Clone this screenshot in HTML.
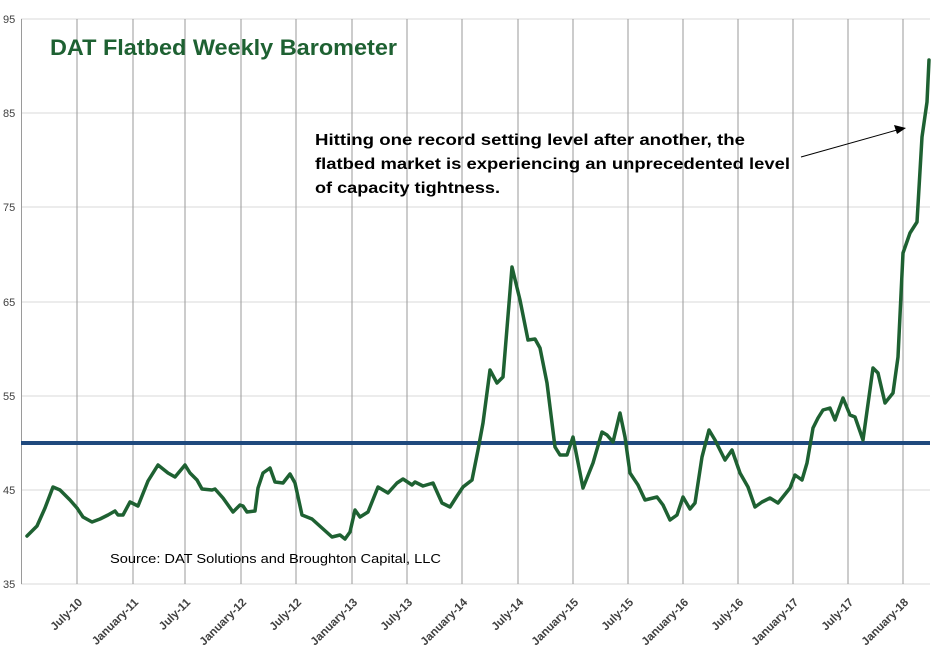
<!DOCTYPE html>
<html><head><meta charset="utf-8"><style>html,body{margin:0;padding:0;background:#fff}svg{display:block}</style></head>
<body>
<svg width="933" height="656" viewBox="0 0 933 656" xmlns="http://www.w3.org/2000/svg" font-family="Liberation Sans, sans-serif">
<g stroke="#d9d9d9" stroke-width="1">
<line x1="21" y1="19" x2="930" y2="19"/><line x1="21" y1="113" x2="930" y2="113"/><line x1="21" y1="207" x2="930" y2="207"/><line x1="21" y1="302" x2="930" y2="302"/><line x1="21" y1="396" x2="930" y2="396"/><line x1="21" y1="490" x2="930" y2="490"/><line x1="21" y1="584" x2="930" y2="584"/>
</g>
<g stroke="#9a9a9a" stroke-width="1">
<line x1="21.5" y1="19" x2="21.5" y2="584"/>
<line x1="77" y1="19" x2="77" y2="584"/><line x1="133" y1="19" x2="133" y2="584"/><line x1="185" y1="19" x2="185" y2="584"/><line x1="241" y1="19" x2="241" y2="584"/><line x1="296" y1="19" x2="296" y2="584"/><line x1="352" y1="19" x2="352" y2="584"/><line x1="407" y1="19" x2="407" y2="584"/><line x1="462" y1="19" x2="462" y2="584"/><line x1="518" y1="19" x2="518" y2="584"/><line x1="573" y1="19" x2="573" y2="584"/><line x1="628" y1="19" x2="628" y2="584"/><line x1="683" y1="19" x2="683" y2="584"/><line x1="738" y1="19" x2="738" y2="584"/><line x1="793" y1="19" x2="793" y2="584"/><line x1="848" y1="19" x2="848" y2="584"/><line x1="903" y1="19" x2="903" y2="584"/>
</g>
<g fill="#404040" font-size="11">
<text x="3" y="23">95</text><text x="3" y="117">85</text><text x="3" y="211">75</text><text x="3" y="306">65</text><text x="3" y="400">55</text><text x="3" y="494">45</text><text x="3" y="588">35</text>
</g>
<g fill="#404040" font-size="11.5" font-weight="bold" text-anchor="end">
<text transform="translate(83,603) rotate(-45)">July-10</text>
<text transform="translate(139,603) rotate(-45)">January-11</text>
<text transform="translate(191,603) rotate(-45)">July-11</text>
<text transform="translate(247,603) rotate(-45)">January-12</text>
<text transform="translate(302,603) rotate(-45)">July-12</text>
<text transform="translate(358,603) rotate(-45)">January-13</text>
<text transform="translate(413,603) rotate(-45)">July-13</text>
<text transform="translate(468,603) rotate(-45)">January-14</text>
<text transform="translate(524,603) rotate(-45)">July-14</text>
<text transform="translate(579,603) rotate(-45)">January-15</text>
<text transform="translate(634,603) rotate(-45)">July-15</text>
<text transform="translate(689,603) rotate(-45)">January-16</text>
<text transform="translate(744,603) rotate(-45)">July-16</text>
<text transform="translate(799,603) rotate(-45)">January-17</text>
<text transform="translate(854,603) rotate(-45)">July-17</text>
<text transform="translate(909,603) rotate(-45)">January-18</text>
</g>
<line x1="21" y1="443" x2="930" y2="443" stroke="#1f497d" stroke-width="4"/>
<polyline fill="none" stroke="#1e6132" stroke-width="3.5" stroke-linejoin="round" stroke-linecap="round" points="27,536 37,526 45,508 53,487 60,490 70,500 77,508 83,517 92,522 100,519 108,515 115,511 118,515 123,515 130,502 138,506 148,481 158,465 168,473 175,477 185,465 190,473 197,480 202,489 212,490 215,489 223,498 233,512 240,505 243,506 247,512 255,511 258,488 263,473 270,468 275,482 283,483 290,474 295,483 302,515 312,519 322,528 332,537 340,535 345,539 350,532 355,510 360,517 368,512 378,487 388,493 397,483 403,479 412,485 415,482 423,486 433,483 442,503 450,507 457,496 463,487 472,480 478,450 483,423 490,370 497,383 503,377 512,267 520,300 528,340 535,339 540,348 547,383 555,447 560,455 567,455 573,437 583,488 593,463 602,432 607,435 613,442 620,413 625,437 630,473 638,485 645,500 657,497 663,505 670,520 677,515 683,497 690,509 695,503 702,457 709,430 715,440 725,460 732,450 740,473 748,487 755,507 762,502 770,498 778,503 790,488 795,475 802,480 807,463 813,428 818,418 823,410 830,408 835,420 843,398 850,415 855,417 863,440 873,368 878,373 885,403 893,393 898,357 903,253 910,233 917,222 922,137 927,102 929,60"/>
<text x="50" y="55" font-size="22" font-weight="bold" fill="#1e6132" textLength="347" lengthAdjust="spacingAndGlyphs">DAT Flatbed Weekly Barometer</text>
<g font-size="16" font-weight="bold" fill="#000">
<text x="315" y="145" textLength="430" lengthAdjust="spacingAndGlyphs">Hitting one record setting level after another, the</text>
<text x="315" y="169" textLength="475" lengthAdjust="spacingAndGlyphs">flatbed market is experiencing an unprecedented level</text>
<text x="315" y="193" textLength="185" lengthAdjust="spacingAndGlyphs">of capacity tightness.</text>
</g>
<line x1="801" y1="157" x2="897" y2="130" stroke="#000" stroke-width="1"/>
<polygon points="906,128 894,125 897,134" fill="#000"/>
<text x="110" y="563" font-size="13" fill="#000" textLength="331" lengthAdjust="spacingAndGlyphs">Source: DAT Solutions and Broughton Capital, LLC</text>
</svg>
</body></html>
